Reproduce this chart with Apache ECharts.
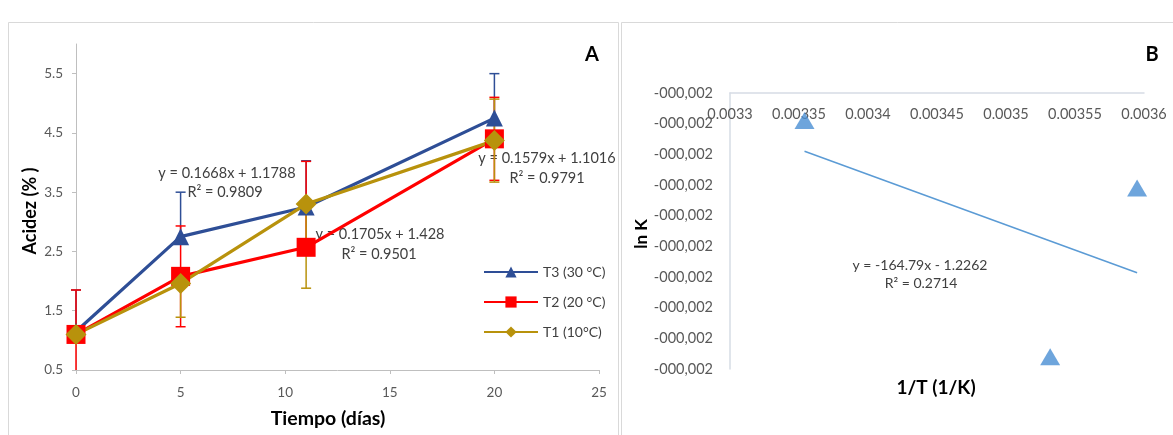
<!DOCTYPE html>
<html><head><meta charset="utf-8">
<script src="https://cdn.jsdelivr.net/npm/echarts@6/dist/echarts.min.js"></script>
<style>html,body{margin:0;padding:0;background:#fff}#c{width:1173px;height:435px}</style>
</head><body><div id="c"></div>
<script>
// ---------- Chart A data ----------
const daysA = [0, 5, 11, 20];
const seriesNamesA = ['T3 (30 °C)', 'T2 (20 °C)', 'T1 (10°C)'];
const t3Values = [1.15, 2.75, 3.25, 4.75];
const t2Values = [1.10, 2.08, 2.57, 4.40];
const t1Values = [1.10, 1.96, 3.30, 4.37];
const t3ErrPlus  = [0.70, 0.75, 0.78, 0.75];
const t3ErrMinus = [0, 0, 0, 0];
const t2ErrPlus  = [0.75, 0.85, 1.45, 0.70];
const t2ErrMinus = [0.75, 0.85, 0, 0.70];
const t1ErrPlus  = [0, 0, 0, 0.70];
const t1ErrMinus = [0, 0.57, 1.42, 0.70];
const eqT3 = ['y = 0.1668x + 1.1788', 'R² = 0.9809'];
const eqT2 = ['y = 0.1705x + 1.428', 'R² = 0.9501'];
const eqT1 = ['y = 0.1579x + 1.1016', 'R² = 0.9791'];
const titleA = 'A', xNameA = 'Tiempo (días)', yNameA = 'Acidez (% )';

// ---------- Chart B data ----------
const invT = [0.003354, 0.003532, 0.003595];
const lnK = [-1.769, -1.846, -1.791];
const trendX = [0.003354, 0.003595];
const trendY = [-1.779, -1.8186];
const xTickLabelsB = ['0.0033', '0.00335', '0.0034', '0.00345', '0.0035', '0.00355', '0.0036'];
const yTickLabelB = '-000,002';
const eqB = ['y = -164.79x - 1.2262', 'R² = 0.2714'];
const titleB = 'B', xNameB = '1/T (1/K)', yNameB = 'ln K';

const FONT = 'Lato, "Liberation Sans", sans-serif';
const TXT = '#404040';
const colors = ['#2E4E96', '#FF0000', '#B8920C'];

function pack(x, v, p, m) { return x.map((d, i) => [d, v[i], p[i], m[i]]); }
function errRender(params, api) {
  const x = api.value(0), y = api.value(1), p = api.value(2), m = api.value(3);
  const lo = Math.max(y - m, 0.5);
  const top = api.coord([x, y + p]), bot = api.coord([x, lo]);
  const color = api.visual('color');
  const cap = 5, st = { stroke: color, lineWidth: 1.5 };
  const ch = [{ type: 'line', shape: { x1: top[0], y1: top[1], x2: bot[0], y2: bot[1] }, style: st }];
  if (p > 0) ch.push({ type: 'line', shape: { x1: top[0] - cap, y1: top[1], x2: top[0] + cap, y2: top[1] }, style: st });
  if (m > 0 && y - m >= 0.5) ch.push({ type: 'line', shape: { x1: bot[0] - cap, y1: bot[1], x2: bot[0] + cap, y2: bot[1] }, style: st });
  return { type: 'group', children: ch };
}

const lineVals = [t3Values, t2Values, t1Values];
const symbols = ['triangle', 'rect', 'diamond'];
const symSizes = [17, 19, 21];
const errs = [[t3ErrPlus, t3ErrMinus], [t2ErrPlus, t2ErrMinus], [t1ErrPlus, t1ErrMinus]];

const series = [];
for (let i = 0; i < 3; i++) {
  series.push({
    type: 'custom', xAxisIndex: 0, yAxisIndex: 0, z: 2, silent: true,
    itemStyle: { color: colors[i] }, renderItem: errRender,
    data: pack(daysA, lineVals[i], errs[i][0], errs[i][1])
  });
}
for (let i = 0; i < 3; i++) {
  series.push({
    name: seriesNamesA[i], type: 'line', xAxisIndex: 0, yAxisIndex: 0, z: 3,
    data: daysA.map((d, k) => [d, lineVals[i][k]]),
    symbol: symbols[i], symbolSize: symSizes[i],
    lineStyle: { color: colors[i], width: 3.2 }, itemStyle: { color: colors[i] }
  });
}
series.push({
  type: 'scatter', xAxisIndex: 1, yAxisIndex: 1, z: 3,
  data: invT.map((x, i) => [x, lnK[i]]),
  symbol: 'triangle', symbolSize: [20, 17], itemStyle: { color: '#4A8ED3' }
});
series.push({
  type: 'line', xAxisIndex: 1, yAxisIndex: 1, z: 2, symbol: 'none',
  data: trendX.map((x, i) => [x, trendY[i]]),
  lineStyle: { color: '#5B9BD5', width: 1.5 }
});

function txt(x, y, s, size, bold, rot, align) {
  return { type: 'text', x: x, y: y, rotation: rot || 0, silent: true,
    style: { text: s, fill: bold ? '#000' : TXT, font: (bold ? 'bold ' : '') + size + 'px ' + FONT,
      textAlign: align || 'center', textVerticalAlign: 'middle' } };
}

const option = {
  animation: false,
  backgroundColor: '#fff',
  textStyle: { fontFamily: FONT },
  grid: [
    { left: 76, top: 44, width: 523, height: 326, outerBoundsMode: 'none', containLabel: false },
    { left: 730, top: 93, width: 414, height: 276, outerBoundsMode: 'none', containLabel: false }
  ],
  xAxis: [
    { type: 'value', gridIndex: 0, min: 0, max: 25, interval: 5,
      axisLine: { lineStyle: { color: '#BFBFBF', width: 1 } },
      axisTick: { show: true, length: 4, lineStyle: { color: '#BFBFBF' } },
      axisLabel: { color: '#595959', fontSize: 13.5, margin: 16, fontFamily: FONT },
      splitLine: { show: false } },
    { type: 'value', gridIndex: 1, min: 0.0033, max: 0.0036, interval: 0.00005, position: 'top',
      axisLine: { onZero: false, lineStyle: { color: '#D6DCE5', width: 1.5 } },
      axisTick: { show: false },
      axisLabel: { inside: true, margin: 14, color: '#595959', fontSize: 14.5, fontFamily: FONT,
        formatter: v => xTickLabelsB[Math.round((v - 0.0033) / 0.00005)] },
      splitLine: { show: false } }
  ],
  yAxis: [
    { type: 'value', gridIndex: 0, min: 0.5, max: 6, interval: 1,
      axisLine: { show: true, lineStyle: { color: '#BFBFBF', width: 1 } },
      axisTick: { show: true, length: 4, lineStyle: { color: '#BFBFBF' } },
      axisLabel: { color: '#595959', fontSize: 13.5, margin: 13, showMaxLabel: false, fontFamily: FONT },
      splitLine: { show: false } },
    { type: 'value', gridIndex: 1, min: -1.85, max: -1.76, interval: 0.01,
      axisLine: { show: true, onZero: false, lineStyle: { color: '#D6DCE5', width: 1.5 } },
      axisTick: { show: false },
      axisLabel: { color: '#595959', fontSize: 14.5, margin: 17, fontFamily: FONT, formatter: () => yTickLabelB },
      splitLine: { show: false } }
  ],
  legend: {
    data: seriesNamesA, orient: 'vertical', left: 478, top: 260, itemGap: 16,
    itemWidth: 54, itemHeight: 14, textStyle: { color: TXT, fontSize: 14, fontFamily: FONT }
  },
  graphic: [
    { type: 'rect', shape: { x: 8.5, y: 22.5, width: 610, height: 420 }, style: { fill: 'none', stroke: '#D9D9D9', lineWidth: 1 }, silent: true },
    { type: 'rect', shape: { x: 621.5, y: 22.5, width: 560, height: 420 }, style: { fill: 'none', stroke: '#D9D9D9', lineWidth: 1 }, silent: true },
    txt(592, 55, titleA, 20, true),
    txt(1152, 55, titleB, 20, true),
    txt(328, 419, xNameA, 19.5, true),
    txt(30, 211, yNameA, 18, true, Math.PI / 2),
    txt(936, 388, xNameB, 19, true),
    txt(642, 234, yNameB, 17, true, Math.PI / 2),
    txt(227, 173, eqT3[0], 14.5), txt(225, 192, eqT3[1], 14.5),
    txt(380, 234, eqT2[0], 14.5), txt(379, 254, eqT2[1], 14.5),
    txt(547, 158, eqT1[0], 14.5), txt(547, 178, eqT1[1], 14.5),
    txt(920, 265, eqB[0], 14), txt(921, 283, eqB[1], 14)
  ],
  series: series
};
const chart = echarts.init(document.getElementById('c'), null, { renderer: 'canvas' });
chart.setOption(option);
</script></body></html>
